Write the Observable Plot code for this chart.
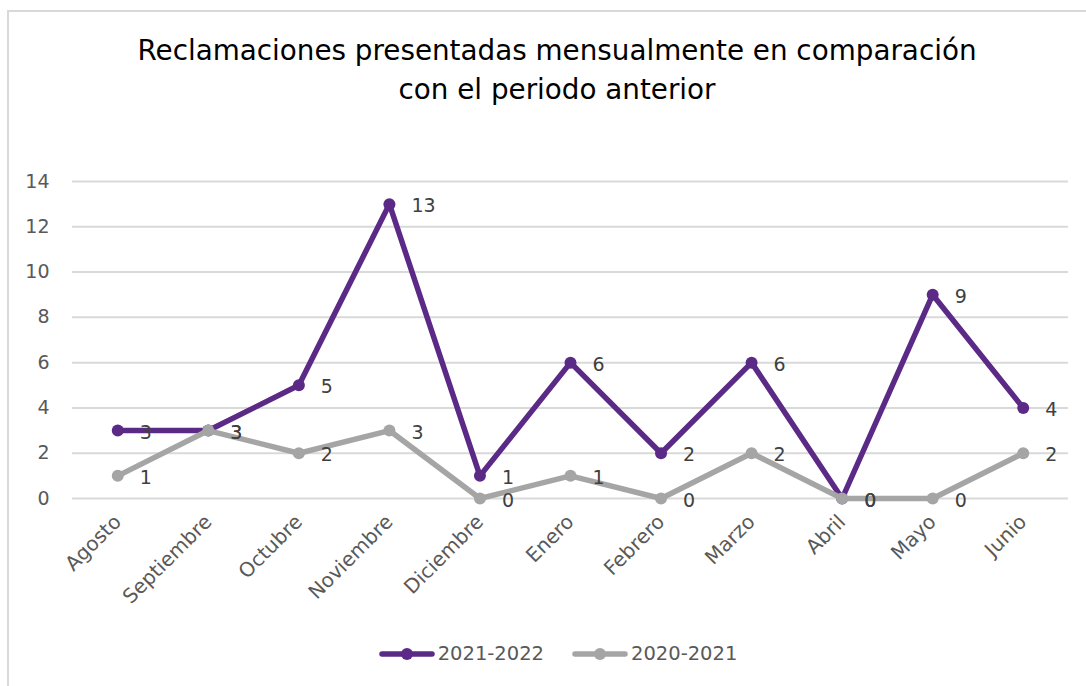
<!DOCTYPE html>
<html>
<head>
<meta charset="utf-8">
<script src="https://cdn.jsdelivr.net/npm/d3@7"></script>
<script src="https://cdn.jsdelivr.net/npm/@observablehq/plot@0.6"></script>
<style>
  html, body { margin: 0; padding: 0; background: #fff; }
  #wrap { position: relative; width: 1086px; height: 686px; overflow: hidden; font-family: "DejaVu Sans", sans-serif; }
  #frame { position: absolute; left: 7px; top: 10px; width: 1200px; height: 800px; border: 2px solid #d9d9d9; box-sizing: border-box; }
  #title { position: absolute; left: 14px; top: 31px; width: 1086px; text-align: center; font-size: 27.8px; line-height: 39px; color: #000; }
  #chart { position: absolute; left: 0; top: 0; }
  #legend { position: absolute; left: 0; top: 642px; width: 1086px; display: flex; justify-content: center; padding-left: 30px; box-sizing: border-box; font-size: 19.5px; color: #595959; align-items: center; }
  .item { display: flex; align-items: center; margin: 0 14px; }
  .item svg { margin-right: 3px; }
</style>
</head>
<body>
<div id="wrap">
  <div id="frame"></div>
  <div id="title">Reclamaciones presentadas mensualmente en comparación<br>con el periodo anterior</div>
  <div id="chart"></div>
  <div id="legend"></div>
</div>
<script>
const months = ["Agosto", "Septiembre", "Octubre", "Noviembre", "Diciembre", "Enero", "Febrero", "Marzo", "Abril", "Mayo", "Junio"];
const series2122 = [3, 3, 5, 13, 1, 6, 2, 6, 0, 9, 4];
const series2021 = [1, 3, 2, 3, 0, 1, 0, 2, 0, 0, 2];
const seriesNames = ["2021-2022", "2020-2021"];
const seriesColors = ["#5B2A86", "#A5A5A5"];
const yTicks = [0, 2, 4, 6, 8, 10, 12, 14];

const d2122 = months.map((m, i) => ({month: m, value: series2122[i]}));
const d2021 = months.map((m, i) => ({month: m, value: series2021[i]}));

const chart = Plot.plot({
  width: 1086,
  height: 600,
  marginTop: 181,
  marginBottom: 102,
  marginLeft: 72,
  marginRight: 18,
  style: { fontFamily: "DejaVu Sans, sans-serif", background: "transparent", overflow: "visible" },
  x: { type: "point", domain: months, padding: 0.5, round: false },
  y: { domain: [0, 14] },
  marks: [
    Plot.ruleY(yTicks, { stroke: "#d9d9d9", strokeWidth: 2 }),
    Plot.axisY({ ticks: yTicks, tickSize: 0, tickPadding: 23, fontSize: 19, color: "#595959", label: null }),
    Plot.axisX({ tickRotate: -45, tickSize: 0, tickPadding: 20, fontSize: 20, color: "#595959", label: null }),
    Plot.line(d2122, { x: "month", y: "value", stroke: seriesColors[0], strokeWidth: 5.5 }),
    Plot.dot(d2122, { x: "month", y: "value", fill: seriesColors[0], r: 6 }),
    Plot.line(d2021, { x: "month", y: "value", stroke: seriesColors[1], strokeWidth: 5.5 }),
    Plot.dot(d2021, { x: "month", y: "value", fill: seriesColors[1], r: 6 }),
    Plot.text(d2122, { x: "month", y: "value", text: "value", textAnchor: "start", dx: 22, dy: 2, fontSize: 19, fill: "#404040" }),
    Plot.text(d2021, { x: "month", y: "value", text: "value", textAnchor: "start", dx: 22, dy: 2, fontSize: 19, fill: "#404040" })
  ]
});
document.getElementById("chart").appendChild(chart);

const legend = document.getElementById("legend");
seriesNames.forEach((name, i) => {
  const item = document.createElement("div");
  item.className = "item";
  item.innerHTML = `<svg width="56" height="14"><line x1="3" y1="7" x2="53" y2="7" stroke="${seriesColors[i]}" stroke-width="5.5" stroke-linecap="round"/><circle cx="28" cy="7" r="6" fill="${seriesColors[i]}"/></svg><span>${name}</span>`;
  legend.appendChild(item);
});
</script>
</body>
</html>
